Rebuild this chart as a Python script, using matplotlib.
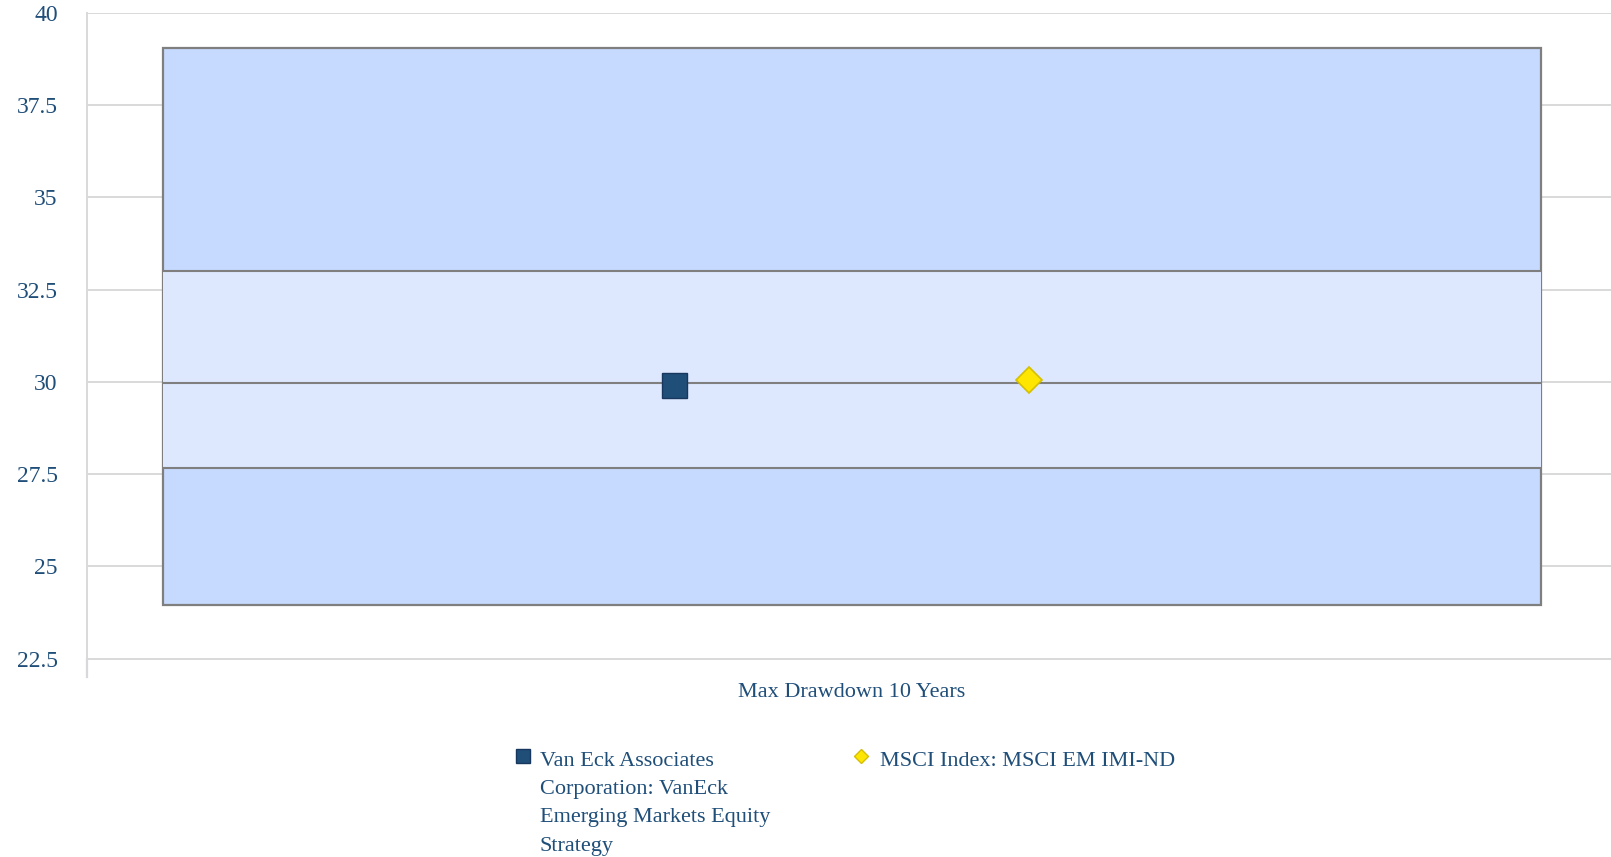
import matplotlib
matplotlib.use('Agg')
import matplotlib.pyplot as plt
from matplotlib.lines import Line2D

category = 'Max Drawdown 10 Years'
# box: min, lower, median, upper, max
box_vals = [23.94, 27.66, 29.97, 33.0, 39.04]
fund_name = 'Van Eck Associates\nCorporation: VanEck\nEmerging Markets Equity\nStrategy'
fund_val = 29.92
index_name = 'MSCI Index: MSCI EM IMI-ND'
index_val = 30.05
yticks = [22.5, 25, 27.5, 30, 32.5, 35, 37.5, 40]

text_col = '#1f4e79'
outer_col = '#c6d9fe'
inner_col = '#dde7fe'
edge_col = '#7f7f7f'
grid_col = '#d9d9d9'

plt.rcParams['font.family'] = ['Liberation Serif', 'DejaVu Serif']

fig = plt.figure(figsize=(16.11, 8.57), dpi=100)
ax = fig.add_axes([0.054, 0.21, 0.946, 0.775])

lo, q1, med, q3, hi = box_vals
w = 0.904
ax.bar(0, hi - lo, bottom=lo, width=w, color=outer_col, edgecolor=edge_col, linewidth=1.6, zorder=2)
ax.bar(0, q3 - q1, bottom=q1, width=w, color=inner_col, edgecolor='none', zorder=3)
for v in (q1, med, q3):
    ax.hlines(v, -w / 2, w / 2, color=edge_col, linewidth=1.5, zorder=4)

ax.plot(-0.117, fund_val, marker='s', markersize=18, color='#1f4e79',
        markeredgecolor='#17375e', markeredgewidth=1, zorder=5)
ax.plot(0.116, index_val, marker='D', markersize=13, color='#ffe600',
        markeredgecolor='#d4bf00', markeredgewidth=1.2, zorder=5)

ax.set_xlim(-0.502, 0.498)
ax.set_ylim(22.0, 40)
ax.set_yticks(yticks)
ax.set_yticklabels([f'{t:g}' for t in yticks])
ax.set_xticks([0])
ax.set_xticklabels([category])
ax.grid(axis='y', color=grid_col, linewidth=1.4, zorder=0)
ax.set_axisbelow(True)
for s in ('top', 'right', 'bottom'):
    ax.spines[s].set_visible(False)
ax.spines['left'].set_color(grid_col)
ax.spines['left'].set_linewidth(1.4)
ax.axvline(-0.502, ymin=0, ymax=0.5 / 18, color='#c5d8f0', linewidth=1.6, zorder=1, clip_on=False)
ax.tick_params(axis='y', length=0, pad=21, labelsize=17, labelcolor=text_col)
ax.tick_params(axis='x', length=0, pad=4, labelsize=16, labelcolor=text_col)

# legend drawn by hand so the marker sits on the first line of the wrapped label
fig.add_artist(Line2D([0.3245], [0.118], marker='s', markersize=9.5, color='#1f4e79',
                      markeredgecolor='#17375e', transform=fig.transFigure))
fig.text(0.335, 0.1225, fund_name, fontsize=16, color=text_col, va='top',
         linespacing=1.66, transform=fig.transFigure)
fig.add_artist(Line2D([0.5345], [0.118], marker='D', markersize=7.5, color='#ffe600',
                      markeredgecolor='#d4bf00', transform=fig.transFigure))
fig.text(0.546, 0.1225, index_name, fontsize=16, color=text_col, va='top',
         transform=fig.transFigure)

fig.savefig('out.png', dpi=100)
